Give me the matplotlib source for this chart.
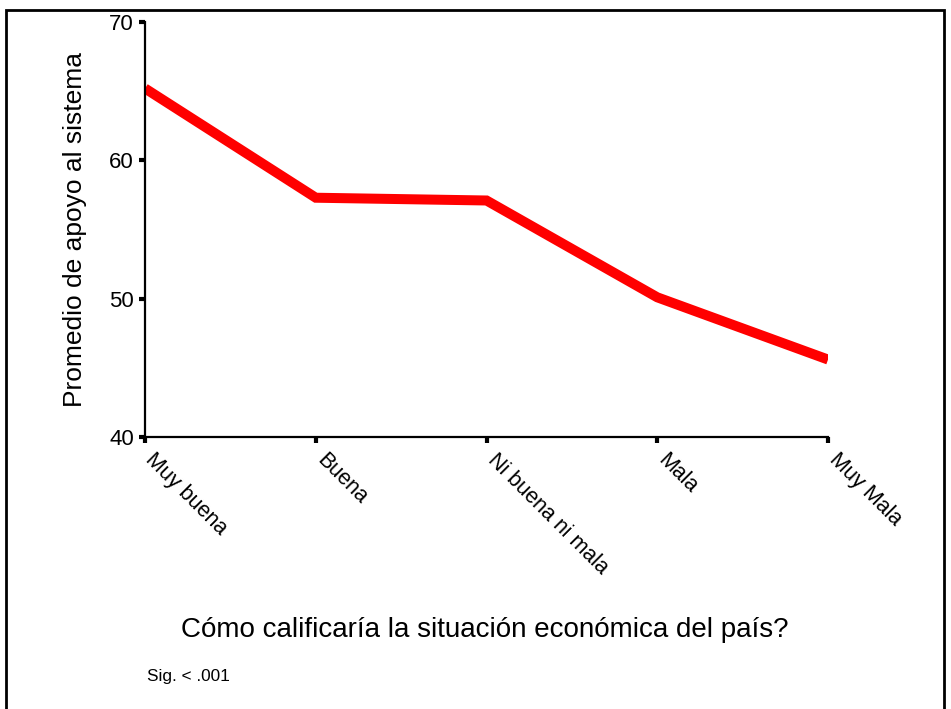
import matplotlib
matplotlib.use("Agg")
from matplotlib import pyplot as plt
from matplotlib.patches import Rectangle

categories = ["Muy buena", "Buena", "Ni buena ni mala", "Mala", "Muy Mala"]
apoyo = [65.2, 57.3, 57.1, 50.1, 45.6]
yticks = [40, 50, 60, 70]

plt.rcParams['font.family'] = ['Liberation Sans', 'DejaVu Sans']

fig = plt.figure(figsize=(9.51, 7.09), dpi=100)
ax = fig.add_axes([0.1525, 0.3836, 0.7182, 0.5853])

x = list(range(len(categories)))
ax.plot(x, apoyo, color='#ff0000', linewidth=7.2, solid_capstyle='butt', solid_joinstyle='miter')

ax.set_xlim(0, len(categories) - 1)
ax.set_ylim(40, 70)
ax.set_yticks(yticks)
ax.set_yticklabels([str(v) for v in yticks], fontsize=16)
ax.set_xticks(x)
ax.set_xticklabels(categories, fontsize=15.5, rotation=-45, ha='left', va='baseline', rotation_mode='anchor')

for s in ['top', 'right']:
    ax.spines[s].set_visible(False)
for s in ['left', 'bottom']:
    ax.spines[s].set_linewidth(1.6)
    ax.spines[s].set_color('black')
ax.tick_params(axis='both', direction='out', length=4, width=3, colors='black')
ax.tick_params(axis='y', pad=4)
ax.tick_params(axis='x', pad=13)

ax.set_ylabel("Promedio de apoyo al sistema", fontsize=19, labelpad=16)

fig.text(0.51, 1 - 630 / 709, "Cómo calificaría la situación económica del país?",
         ha='center', va='center', fontsize=20)
fig.text(147 / 951, 1 - 677 / 709, "Sig. < .001", ha='left', va='center', fontsize=12.4)

# title cut off at top of the picture
fig.text(0.504, 1 + 4.5 / 709, "Promedio de apoyo al sistema según la situación económica del país",
         ha='center', va='baseline', fontsize=19, fontweight='bold', family=['Liberation Serif'])

# frame around chart
fig.patches.append(Rectangle((6 / 951, -0.05), 938 / 951, 1.05 - 10 / 709, transform=fig.transFigure,
                             fill=False, edgecolor='black', linewidth=2))

fig.savefig("out.png", dpi=100)
